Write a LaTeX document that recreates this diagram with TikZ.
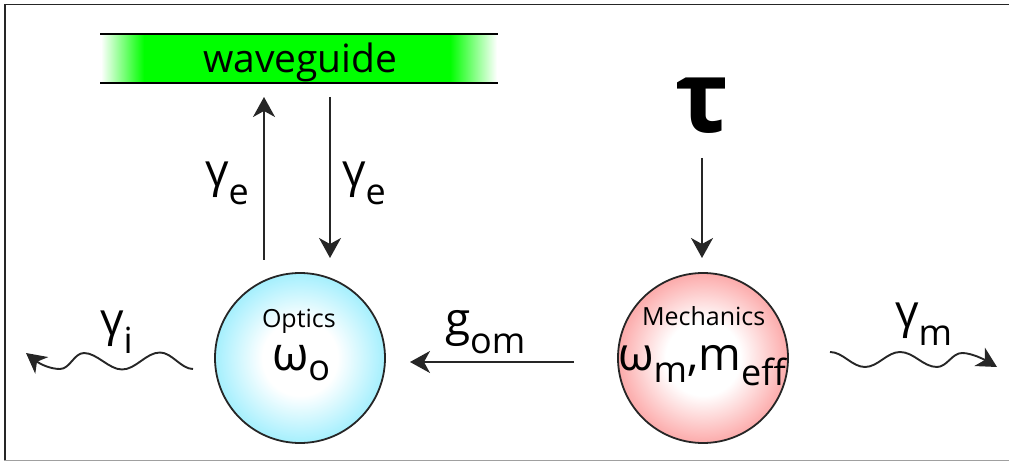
\documentclass[tikz,border=0pt]{standalone}
\usepackage{fontspec}
\setmainfont{Open Sans}
\usetikzlibrary{arrows.meta}
\definecolor{wgreen}{RGB}{0,255,0}
\definecolor{ocyan}{RGB}{100,228,252}
\definecolor{mred}{RGB}{250,110,110}
\definecolor{framegray}{RGB}{160,160,160}
\pgfdeclareradialshading{opticsshade}{\pgfpoint{0bp}{0bp}}{color(0bp)=(white); color(11bp)=(white); color(35bp)=(ocyan); color(50bp)=(ocyan)}
\pgfdeclareradialshading{mechshade}{\pgfpoint{0bp}{0bp}}{color(0bp)=(white); color(11bp)=(white); color(35bp)=(mred); color(50bp)=(mred)}
\newcommand\sz[1]{\fontsize{#1}{#1}\selectfont}
\newcommand\lsub[3]{\raisebox{-#1pt}{\sz{#2}#3}}
\tikzset{
  txt/.style={inner sep=0pt, outer sep=0pt, anchor=base west, text=black},
  arr/.style={line width=1.8pt, draw=black!85, -{Stealth[length=20pt,width=22pt,inset=6pt]}},
  wave/.style={line width=1.9pt, draw=black!85, -{Stealth[length=20pt,width=21pt,inset=6pt]}},
  ball/.style={circle, draw=black!85, line width=1.8pt, minimum size=170pt, inner sep=0pt},
  wgline/.style={line width=2pt, draw=black}
}
\begin{document}
\begin{tikzpicture}[x=1pt,y=-1pt]
\useasboundingbox (0,0) rectangle (1009,462);
% frame
\draw[framegray, line width=1.5pt] (4,460.5) -- (1009,460.5);
\draw[black!85, line width=1.5pt] (5,460) -- (5,4.5) -- (1009,4.5);
% waveguide
\shade[left color=white, right color=wgreen] (101,35) rectangle (144,83);
\fill[wgreen] (143.5,35) rectangle (450.5,83);
\shade[left color=wgreen, right color=white] (450,35) rectangle (497,83);
\draw[wgline] (100,34.3) -- (498,34.3);
\draw[wgline] (100,83.3) -- (498,83.3);
\node[txt] (wg) at (203,72.7) {\sz{39}waveguide};
% optics
\node[ball, shading=opticsshade] (opt) at (300,358) {};
\node[txt] (optl) at (262,327) {\sz{25}Optics};
\node[txt] (wo) at (272,370) {\sz{47}ω\lsub{10}{36}{o}};
% mechanics
\node[ball, shading=mechshade] (mech) at (703,358) {};
\node[txt] (mechl) at (642,325) {\sz{25}Mechanics};
\node[txt] (wm) at (618,370) {\sz{46}ω\lsub{12}{36}{m},m\lsub{15}{36}{eff}};
% tau
\node[txt] (tau) at (675,133) {\sz{100}\bfseries τ};
\coordinate (t1) at (702,158);
\coordinate (t2) at (702,258);
\draw[arr] (t1) -- (t2);
% gamma_e arrows
\coordinate (u1) at (264,260);
\coordinate (u2) at (264,97);
\draw[arr] (u1) -- (u2);
\coordinate (d1) at (330,97);
\coordinate (d2) at (330,258);
\draw[arr] (d1) -- (d2);
\node[txt] (ge1) at (205,187) {\sz{46}γ\lsub{18}{36}{e}};
\node[txt] (ge2) at (342,187) {\sz{46}γ\lsub{18}{36}{e}};
% g_om
\coordinate (g1) at (574,362);
\coordinate (g2) at (410,362);
\draw[arr] (g1) -- (g2);
\node[txt] (gom) at (445,335) {\sz{46}g\lsub{18}{36}{om}};
% gamma_i
\coordinate (wi0) at (193,369);
\coordinate (wi1) at (26,353);
\draw[wave] (wi0) .. controls (181,369) and (172,352.5) .. (160,352.5)
  .. controls (146,352.5) and (136,369.5) .. (122,369.5)
  .. controls (109,369.5) and (97,353) .. (84,353)
  .. controls (74,353) and (70,369) .. (60,369)
  .. controls (50,369) and (40,364) .. (wi1);
\node[txt] (gi) at (100,335) {\sz{46}γ\lsub{18}{36}{i}};
% gamma_m
\coordinate (wm0) at (830,352);
\coordinate (wm1) at (997,367);
\draw[wave] (wm0) .. controls (843,352) and (852,367) .. (865,367)
  .. controls (878,367) and (887,352) .. (900,352)
  .. controls (914,352) and (923,367) .. (937,367)
  .. controls (947,367) and (952,353) .. (962,353)
  .. controls (972,353) and (985,360) .. (wm1);
\node[txt] (gm) at (895,327) {\sz{46}γ\lsub{18}{36}{m}};
\end{tikzpicture}
\end{document}
